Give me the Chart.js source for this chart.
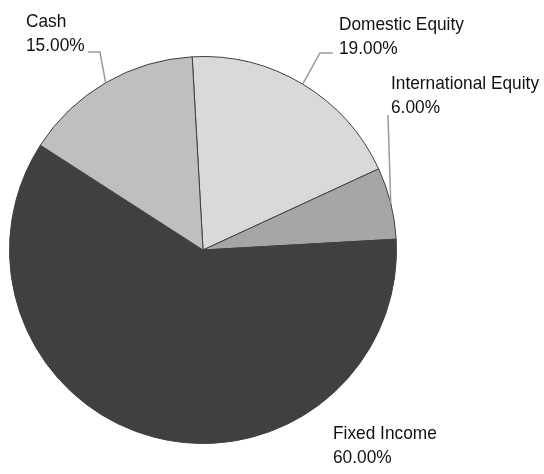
<!DOCTYPE html>
<html>
  <head>
    <script src="https://cdn.jsdelivr.net/npm/chart.js"></script>
    <style>
      body { margin: 0; background: #fff; }
    </style>
  </head>
  <body>
    <canvas id="pie" width="544" height="474"></canvas>
    <script>
      const categories = ["Domestic Equity", "International Equity", "Fixed Income", "Cash"];
      const shares = [19, 6, 60, 15];
      const sliceColors = ["#d9d9d9", "#a6a6a6", "#404040", "#bfbfbf"];

      // where each label sits, and the elbow of its leader line (null = no leader)
      const labelSpots = [
        { x: 339, y: 30, leader: [[320, 53], [333, 53]] },
        { x: 391, y: 89, leader: [[388, 115]] },
        { x: 333, y: 439, leader: null },
        { x: 26, y: 27, leader: [[100, 52], [88, 52]] },
      ];

      const outsideLabels = {
        id: "outsideLabels",
        afterDraw(chart) {
          const ctx = chart.ctx;
          const arcs = chart.getDatasetMeta(0).data;
          arcs.forEach((arc, i) => {
            const spot = labelSpots[i];
            ctx.save();
            if (spot.leader) {
              const mid = (arc.startAngle + arc.endAngle) / 2;
              ctx.beginPath();
              ctx.moveTo(arc.x + Math.cos(mid) * arc.outerRadius, arc.y + Math.sin(mid) * arc.outerRadius);
              spot.leader.forEach(p => ctx.lineTo(p[0], p[1]));
              ctx.strokeStyle = "#9a9a9a";
              ctx.lineWidth = 1.5;
              ctx.stroke();
            }
            // the original font is a bit narrower than Liberation Sans
            ctx.translate(spot.x, spot.y);
            ctx.scale(0.91, 1);
            ctx.fillStyle = "#111";
            ctx.font = "19px 'Liberation Sans', Arial, sans-serif";
            ctx.textBaseline = "alphabetic";
            ctx.fillText(categories[i], 0, 0);
            ctx.fillText(shares[i].toFixed(2) + "%", 0, 24);
            ctx.restore();
          });
        }
      };

      new Chart(document.getElementById("pie"), {
        type: "pie",
        data: {
          labels: categories,
          datasets: [{
            data: shares,
            backgroundColor: sliceColors,
            borderColor: "#404040",
            borderWidth: 1,
          }],
        },
        options: {
          responsive: false,
          animation: false,
          rotation: -3.2,
          layout: { padding: { left: 9, right: 147, top: 56, bottom: 30 } },
          plugins: { legend: { display: false }, tooltip: { enabled: false } },
        },
        plugins: [outsideLabels],
      });
    </script>
  </body>
</html>
